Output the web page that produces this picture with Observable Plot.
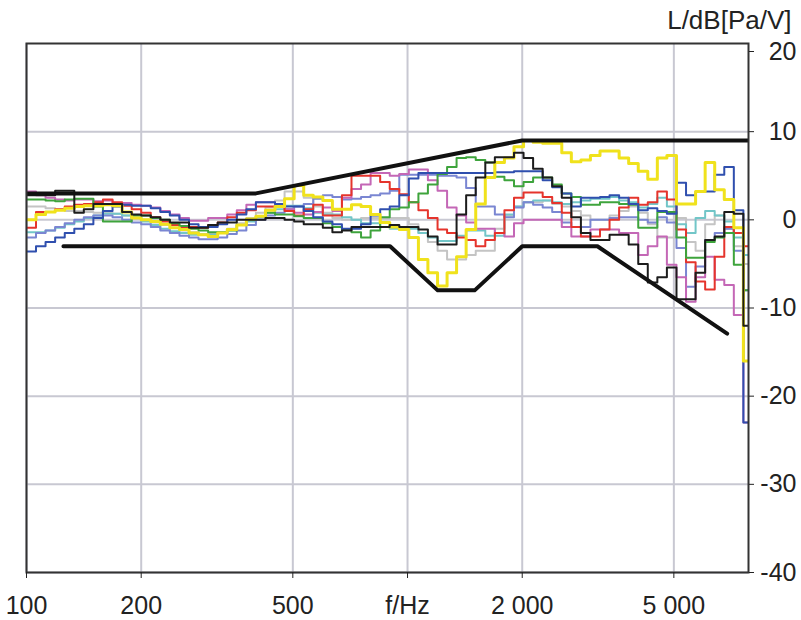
<!DOCTYPE html>
<html>
<head>
<meta charset="utf-8">
<script src="https://cdn.jsdelivr.net/npm/d3@7"></script>
<script src="https://cdn.jsdelivr.net/npm/@observablehq/plot@0.6"></script>
<style>
  html, body { margin: 0; padding: 0; background: #fff; }
  #chart { width: 801px; height: 620px; }
</style>
</head>
<body>
<div id="chart"></div>
<script>
// 1/12-octave band edges (Hz)
const freqs = [100, 105.9, 112.2, 118.9, 126.0, 133.5, 141.4, 149.8, 158.7, 168.2, 178.2, 188.8,
  200, 211.9, 224.5, 237.8, 252.0, 267.0, 282.8, 299.7, 317.5, 336.4, 356.4, 377.6,
  400, 423.8, 449.0, 475.7, 504.0, 534.0, 565.7, 599.3, 635.0, 672.7, 712.7, 755.1,
  800, 847.6, 898.0, 951.4, 1008, 1068, 1131, 1199, 1270, 1345, 1425, 1510,
  1600, 1695, 1796, 1903, 2016, 2136, 2263, 2397, 2540, 2691, 2851, 3020,
  3200, 3390, 3592, 3805, 4032, 4271, 4525, 4794, 5080, 5382, 5702, 6041,
  6400, 6781, 7184, 7611, 8063];

const grey = [1.5,1.5,1.3,1.2,1.0,1.0,0.9,0.8,0.8,0.7,0.5,0.3, 0.0,-0.3,-0.6,-0.9,-1.2,-1.4,-1.6,-1.6,-1.4,-1.0,-0.4,0.2,
  0.8,1.4,2.2,3.2,3.2,2.5,1.5,0.8,0.2,0.0,0.0,0.2, 0.2,0.2,0.2,0.2,-0.5,-1.5,-2.5,-3.5,-4.5,-4.5,-4.0,-3.5,
  -3.5,-1.0,0.5,1.5,2.0,2.0,2.2,1.8,1.5,1.0,0.5,0.0, 0.0,0.5,1.0,1.5,0.8,-0.5,-2.0,-2.0,0.2,-2.5,-3.5,-0.5,
  0.5,-1.0,-3.0,-5.0,-5.0];
const cyan = [-1.4,-1.4,-1.2,-0.9,-0.5,-0.2,0.2,0.5,0.7,0.7,0.5,0.2, -0.2,-0.6,-1.0,-1.3,-1.5,-1.7,-1.7,-1.7,-1.5,-1.1,-0.6,-0.2,
  0.3,0.8,1.2,1.6,1.6,1.3,0.8,0.6,0.6,0.3,0.0,-0.4, -0.4,-0.8,-1.0,-1.0,-1.0,-1.5,-2.0,-2.4,-2.4,-1.8,-1.2,-1.2,
  -1.8,-1.8,0.6,1.5,2.0,2.2,2.2,2.0,1.8,2.0,2.2,2.4, 2.4,2.6,2.2,2.0,1.4,1.8,2.5,1.5,-0.5,-1.5,0.2,1.0,
  0.5,-0.2,-2.0,-4.0,-4.0];
const periwinkle = [-2.0,-1.5,-1.2,-0.8,-0.4,0.0,0.3,0.5,0.5,0.3,0.0,-0.3, -0.5,-0.8,-1.2,-1.5,-1.8,-2.0,-2.2,-2.2,-2.0,-1.6,-1.2,-0.6,
  0.0,0.5,0.8,1.2,1.5,1.8,2.4,2.8,2.6,2.3,2.4,2.6, 2.8,3.0,3.3,5.1,5.1,5.1,5.1,5.0,5.0,4.8,3.6,1.5,
  1.5,0.6,0.3,1.4,2.0,1.7,1.4,0.9,-0.3,-0.8,-0.8,0.0, 0.0,0.2,0.3,0.3,0.0,-0.3,0.3,-0.3,-3.2,-7.6,-5.3,-2.3,
  -1.5,-1.0,-3.5,-8.0,-8.0];
const magenta = [3.2,2.8,2.5,2.3,2.2,2.3,2.3,2.1,2.2,1.9,1.9,1.7, 1.6,1.4,1.0,0.6,0.2,-0.1,-0.1,0.2,0.2,0.6,1.1,1.7,
  2.0,2.0,1.6,1.2,0.8,0.6,0.9,1.4,1.0,2.5,3.5,4.0, 5.3,5.3,5.0,5.2,5.7,5.7,4.5,3.3,1.4,0.5,-0.3,-1.0,
  -1.0,-1.5,-1.9,-0.4,0.0,0.0,0.0,0.0,-0.8,-1.9,-1.9,-1.1, -1.1,-1.1,-1.5,-1.5,-4.0,-3.0,-1.9,-5.1,-6.5,-9.3,-6.5,-4.2,
  -6.8,-7.4,-10.8,-23,-23];
const red = [-0.9,0.9,0.9,1.2,1.5,1.7,1.8,2.0,2.3,2.0,1.6,1.2, 0.8,0.3,-0.2,-0.6,-0.8,-0.8,-0.9,-0.6,-0.3,0.3,0.8,1.1,
  1.5,1.5,1.5,1.0,0.5,1.2,1.7,0.5,0.5,2.8,5.0,5.0, 5.0,4.3,3.5,2.9,2.0,1.1,0.2,-1.1,-1.5,-2.0,-2.3,-3.0,
  -2.3,-1.5,1.1,2.5,3.1,3.1,2.6,1.9,0.8,-0.8,-1.9,-1.9, -1.1,0.0,1.4,2.5,1.7,2.0,3.2,2.3,-1.1,-4.8,-7.0,-7.9,
  -4.2,-0.8,-1.5,-3.0,-3.0];
const green = [2.3,2.3,2.2,2.1,2.3,2.4,2.4,1.5,-0.2,-0.2,-0.2,0.5, 0.5,0.2,0.0,-0.4,-0.7,-1.0,-1.2,-1.4,-1.4,-1.2,-0.6,0.0,
  0.4,0.8,0.6,0.6,0.4,0.2,0.2,-0.4,-0.8,-1.1,-1.4,-2.0, -1.2,0.3,1.2,1.4,2.0,3.0,4.0,5.2,6.0,7.0,7.1,6.8,
  6.5,4.9,4.5,3.8,4.3,4.8,4.8,4.0,3.0,2.6,1.7,1.7, 2.0,2.0,1.8,1.7,-0.9,-0.9,0.9,0.9,-2.0,-4.3,-4.3,-2.5,
  -2.0,-1.5,-5.1,-8.0,-8.0];
const blue = [-3.6,-3.0,-2.5,-2.0,-1.5,-1.0,-0.5,0.2,1.0,1.5,1.7,1.6, 1.6,1.3,0.9,0.5,0.0,-0.5,-0.8,-0.8,-0.5,0.0,0.6,1.2,
  2.0,2.0,1.8,1.5,1.5,1.0,0.3,-0.2,-0.5,-1.0,-1.0,-0.5, 0.5,1.2,1.5,2.8,4.7,5.3,5.3,5.3,5.3,5.3,5.3,5.3,
  5.3,5.4,5.4,5.5,5.5,5.5,4.5,3.7,3.0,1.5,2.5,2.5, 2.6,2.8,2.5,1.8,1.1,1.3,1.0,0.7,4.2,2.8,3.2,3.2,
  5.1,6.0,1.1,-23,-23];
const yellow = [0.0,0.6,0.9,1.1,1.3,1.5,1.6,1.6,1.7,1.6,0.9,0.2, 0.0,-0.2,-0.5,-0.9,-1.1,-1.5,-1.7,-1.9,-1.5,-1.1,-0.6,0.1,
  0.4,1.1,1.5,2.4,3.9,2.8,2.6,2.2,1.2,1.2,1.7,1.5, 0.6,-0.3,-0.8,-1.1,-2.0,-4.5,-6.0,-7.5,-6.0,-4.2,-1.1,1.8,
  4.8,6.5,7.0,8.3,9.0,8.8,8.7,8.7,7.6,6.6,6.8,7.3, 7.8,7.8,7.0,6.4,5.5,4.6,7.0,7.3,1.8,1.8,3.2,6.5,
  3.4,2.3,-0.9,-16,-16];
const black = [2.8,2.8,2.8,3.3,3.3,0.8,1.2,1.8,1.8,1.8,0.9,0.6, 0.5,0.3,0.0,-0.3,-0.3,-0.9,-0.9,-0.6,-0.3,-0.3,0.0,0.0,
  0.0,0.2,0.2,0.0,-0.2,-0.5,-0.5,-0.9,-1.4,-1.2,-0.8,-0.8, -0.8,-0.8,-0.6,-0.8,-0.8,-1.1,-1.9,-2.8,-2.8,0.6,2.8,4.8,
  6.5,7.1,7.1,7.6,7.0,5.8,4.8,3.8,2.5,0.3,-1.5,-2.3, -2.3,-1.7,-1.7,-2.8,-5.0,-7.1,-6.5,-5.4,-9.0,-9.0,-6.0,-2.3,
  -1.9,0.9,0.7,-12,-12];

// tolerance band
const upperF = [100, 400, 2000, 7850];
const upperL = [3, 3, 9, 9];
const lowerF = [125, 900, 1200, 1500, 2000, 3150, 6900];
const lowerL = [-3, -3, -8, -8, -3, -3, -12.9];

const xTicks = [100, 200, 500, 1000, 2000, 5000];
const xTickLabels = ["100", "200", "500", "f/Hz", "2 000", "5 000"];
const yTicks = [10, 0, -10, -20, -30, -40];
const yTopTick = [20];
const yTitle = "L/dB[Pa/V]";

const seriesDefs = [
  {name: "grey", values: grey, color: "#c4c4c4", w: 2},
  {name: "cyan", values: cyan, color: "#72c6c8", w: 2},
  {name: "periwinkle", values: periwinkle, color: "#7a86d2", w: 2},
  {name: "magenta", values: magenta, color: "#c467b6", w: 2},
  {name: "red", values: red, color: "#e5342c", w: 2},
  {name: "green", values: green, color: "#3ea43c", w: 2},
  {name: "blue", values: blue, color: "#2f4fae", w: 2},
  {name: "yellow", values: yellow, color: "#f0e21c", w: 3},
  {name: "black", values: black, color: "#1c1c1c", w: 2}
];

const tickLabelMap = new Map(xTicks.map((t, i) => [t, xTickLabels[i]]));

const lineMarks = seriesDefs.map(s =>
  Plot.line(freqs.map((f, i) => ({f, v: s.values[i]})), {
    x: "f", y: "v", curve: "step-after", stroke: s.color, strokeWidth: s.w, clip: true
  })
);

const upper = upperF.map((f, i) => ({f, v: upperL[i]}));
const lower = lowerF.map((f, i) => ({f, v: lowerL[i]}));

const yAxisOpts = {anchor: "right", tickSize: 5, tickPadding: 43, textAnchor: "end", fontSize: 25, label: null, tickFormat: d => String(d)};

const chart = Plot.plot({
  width: 801,
  height: 620,
  marginLeft: 26,
  marginRight: 53,
  marginTop: 43,
  marginBottom: 48,
  style: {fontFamily: "'Liberation Sans', Arial, sans-serif", fontSize: "25px", background: "#fff", color: "#222"},
  x: {type: "log", domain: [100, 7850]},
  y: {domain: [-40, 20]},
  marks: [
    Plot.gridX(xTicks, {stroke: "#c8c8d2", strokeOpacity: 1, strokeWidth: 2}),
    Plot.gridY(yTicks, {stroke: "#c8c8d2", strokeOpacity: 1, strokeWidth: 2}),
    ...lineMarks,
    Plot.line(upper, {x: "f", y: "v", stroke: "#111", strokeWidth: 4, clip: true}),
    Plot.line(lower, {x: "f", y: "v", stroke: "#111", strokeWidth: 4, clip: true}),
    Plot.frame({stroke: "#333", strokeWidth: 2}),
    Plot.axisX(xTicks, {tickFormat: d => tickLabelMap.get(d), tickSize: 6, tickPadding: 18, fontSize: 25, label: null}),
    Plot.axisY(yTicks, yAxisOpts),
    Plot.axisY(yTopTick, {...yAxisOpts, dy: 8}),
    Plot.text([yTitle], {frameAnchor: "top-right", lineAnchor: "middle", dx: 43, dy: -23, textAnchor: "end", fontSize: 26})
  ]
});
document.getElementById("chart").appendChild(chart);
</script>
</body>
</html>
